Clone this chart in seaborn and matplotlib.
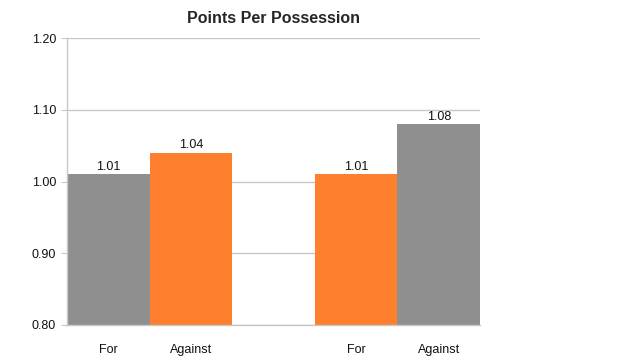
import numpy as np
import pandas as pd
import seaborn as sns
import matplotlib.pyplot as plt
from matplotlib.ticker import FixedLocator

slots = [0, 1, 3, 4]
labels = ["For", "Against", "For", "Against"]
values = [1.01, 1.04, 1.01, 1.08]
colors = ["#8f8f8f", "#fe7f2d", "#fe7f2d", "#8f8f8f"]

df = pd.DataFrame({"slot": slots, "ppp": values, "bar": range(len(slots))})

sns.set_style("white")
plt.rcParams["font.family"] = ["Liberation Sans", "DejaVu Sans"]

fig = plt.figure(figsize=(6.4, 3.63), dpi=100)
ax = fig.add_axes([0.105, 0.105, 0.645, 0.79])

sns.barplot(data=df, x="slot", y="ppp", hue="bar", order=[0, 1, 2, 3, 4],
            palette=colors, width=1.0, dodge=False, legend=False,
            saturation=1, linewidth=0, ax=ax)

for cont in ax.containers:
    ax.bar_label(cont, fmt="%.2f", fontsize=9, padding=1, color="#111111")

ax.set_ylim(0.80, 1.20)
ax.set_xlim(-0.5, 4.5)
ax.set_yticks([0.80, 0.90, 1.00, 1.10, 1.20])
ax.set_yticklabels([f"{v:.2f}" for v in [0.80, 0.90, 1.00, 1.10, 1.20]])
ax.yaxis.grid(True, color="#c8c8c8", linewidth=1)
ax.set_axisbelow(True)

ax.set_xticks(slots)
ax.set_xticklabels(labels)
ax.xaxis.set_minor_locator(FixedLocator(np.arange(-0.5, 5, 1.0)))
ax.tick_params(axis="x", which="major", length=0, pad=14, labelsize=9, labelcolor="#111111")
ax.tick_params(axis="x", which="minor", length=4, color="#c8c8c8", direction="out")
ax.tick_params(axis="y", length=4, color="#c8c8c8", labelsize=9, pad=4,
               direction="out", labelcolor="#111111")
ax.tick_params(axis="y", which="major", left=True)

for side in ["top", "right"]:
    ax.spines[side].set_visible(False)
for side in ["left", "bottom"]:
    ax.spines[side].set_color("#c8c8c8")
    ax.spines[side].set_linewidth(1)

ax.set_xlabel("")
ax.set_ylabel("")
fig.text(0.427, 0.948, "Points Per Possession", ha="center", va="center",
         fontsize=11.5, fontweight="bold")

fig.savefig("out.png", dpi=100)
